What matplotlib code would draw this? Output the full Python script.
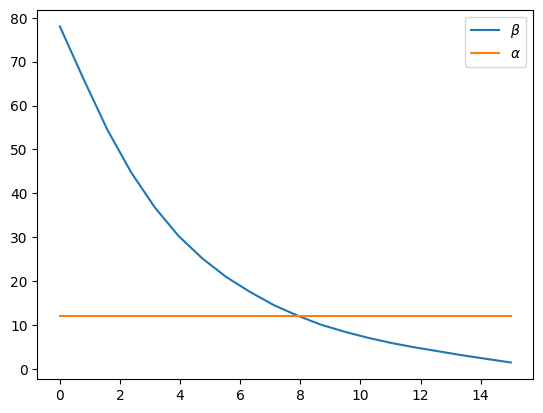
import numpy as np
import matplotlib.pyplot as plt

# sample points
x = np.linspace(0, 15, 20)
beta = [78.0, 66.0, 54.5, 44.8, 36.8, 30.3, 25.2, 21.0, 17.6, 14.6,
        12.2, 10.1, 8.5, 7.1, 5.9, 4.9, 4.0, 3.1, 2.3, 1.5]
alpha = [12.0] * len(x)

fig, ax = plt.subplots()
ax.plot(x, beta, label=r"$\beta$")
ax.plot(x, alpha, label=r"$\alpha$")
ax.legend()

plt.savefig("out.png", bbox_inches="tight")
